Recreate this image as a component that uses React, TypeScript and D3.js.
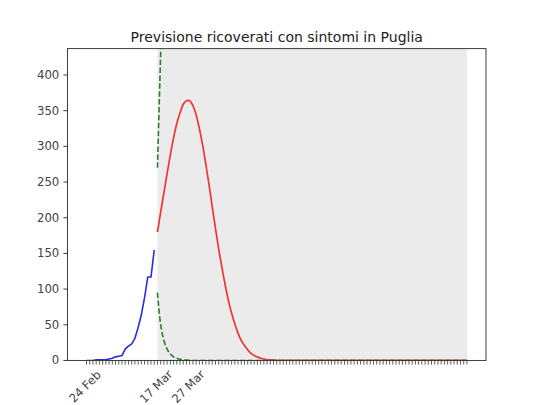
import React from "react";
import * as d3 from "d3";

const titleText = "Previsione ricoverati con sintomi in Puglia";
const dayCount = 119; // 24 Feb .. 22 Jun (daily ticks)
const tickLabelDays = [0, 22, 32];
const tickLabelTexts = ["24 Feb", "17 Mar", "27 Mar"];
const yTicks = [0, 50, 100, 150, 200, 250, 300, 350, 400];

// observed data, day 0 = 24 Feb
const observedValues = [0, 0, 0, 1, 1, 1, 1, 2, 3, 5, 6, 7, 16, 20, 23, 31, 46, 64, 88, 117, 117, 155];

// forecast starts at day 22 (17 Mar)
const forecastStartDay = 22;
const forecastEndDay = 118;
const forecastValues = [
  180, 208, 235, 262, 288, 312, 332, 347, 359, 364, 364, 357, 344, 325, 302, 275, 246, 215, 185, 156,
  130, 106, 84, 66, 51, 38, 28, 21, 15, 10, 7, 5, 3, 2, 1, 1, 0.5, 0.3,
  0, 0, 0, 0, 0, 0, 0, 0, 0, 0, 0, 0, 0, 0, 0, 0, 0, 0, 0, 0, 0, 0, 0, 0, 0, 0, 0, 0, 0, 0, 0, 0,
  0, 0, 0, 0, 0, 0, 0, 0, 0, 0, 0, 0, 0, 0, 0, 0, 0, 0, 0, 0, 0, 0, 0, 0, 0, 0, 0,
];
const upperBoundValues = [270, 432, 700, 1000];
const lowerBoundValues = [
  95, 50, 28, 16, 9, 5, 3, 1.5, 1, 0.5, 0.3,
  0, 0, 0, 0, 0, 0, 0, 0, 0, 0, 0, 0, 0, 0, 0, 0, 0, 0, 0, 0, 0, 0, 0, 0, 0, 0, 0, 0, 0, 0,
  0, 0, 0, 0, 0, 0, 0, 0, 0, 0, 0, 0, 0, 0, 0, 0, 0, 0, 0, 0, 0, 0, 0, 0, 0, 0, 0, 0, 0, 0,
  0, 0, 0, 0, 0, 0, 0, 0, 0, 0, 0, 0, 0, 0, 0, 0, 0, 0, 0, 0, 0, 0, 0, 0, 0, 0,
];

const W = 540;
const H = 405;
const left = 67.5;
const right = 486;
const top = 48.6;
const bottom = 360.45;
const font = "'DejaVu Sans', sans-serif";

export default function App() {
  const span = dayCount - 1;
  const x = d3.scaleLinear().domain([-0.05 * span, span * 1.05]).range([left, right]);
  const y = d3.scaleLinear().domain([0, 437]).range([bottom, top]);

  const line = d3
    .line<number>()
    .x((_, i) => x(i))
    .y((d) => y(d));
  const fline = (start: number) =>
    d3
      .line<number>()
      .x((_, i) => x(start + i))
      .y((d) => y(d))
      .curve(d3.curveCatmullRom.alpha(0.5));

  const days = d3.range(dayCount);
  const tickLen = 4.1;
  const labelTop = bottom + tickLen + 4.1;

  return (
    <svg width={W} height={H} style={{ position: "absolute", left: 0, top: 0 }}>
      <defs>
        <clipPath id="plot">
          <rect x={left} y={top} width={right - left} height={bottom - top} />
        </clipPath>
      </defs>
      <rect width={W} height={H} fill="#fff" />
      <g clipPath="url(#plot)">
        <rect
          x={x(forecastStartDay)}
          y={top}
          width={x(forecastEndDay) - x(forecastStartDay)}
          height={bottom - top}
          fill="#ebebeb"
        />
        <path d={line(observedValues) || ""} fill="none" stroke="#2a2ae6" strokeWidth={1.6} />
        <path d={fline(forecastStartDay)(forecastValues) || ""} fill="none" stroke="#f03434" strokeWidth={1.7} />
        <path
          d={d3.line<number>().x((_, i) => x(forecastStartDay + i)).y((d) => y(d))(upperBoundValues) || ""}
          fill="none"
          stroke="#2c7f2c"
          strokeWidth={1.6}
          strokeDasharray="5.5,2.4"
        />
        <path
          d={fline(forecastStartDay)(lowerBoundValues) || ""}
          fill="none"
          stroke="#2c7f2c"
          strokeWidth={1.6}
          strokeDasharray="5.5,2.4"
        />
      </g>
      <rect x={left} y={top} width={right - left} height={bottom - top} fill="none" stroke="#333" strokeWidth={0.95} />
      {yTicks.map((t) => (
        <g key={t}>
          <line x1={left - tickLen} x2={left} y1={y(t)} y2={y(t)} stroke="#333" strokeWidth={0.95} />
          <text
            x={left - tickLen - 4.1}
            y={y(t)}
            textAnchor="end"
            dominantBaseline="central"
            fontFamily={font}
            fontSize={11.7}
            fill="#444"
          >
            {t}
          </text>
        </g>
      ))}
      {days.map((d) => (
        <line key={d} x1={x(d)} x2={x(d)} y1={bottom} y2={bottom + tickLen} stroke="#333" strokeWidth={0.8} />
      ))}
      {tickLabelDays.map((d, i) => {
        const cx = x(d) - 1.5;
        const cy = labelTop + 18;
        return (
          <text
            key={d}
            x={cx}
            y={cy}
            textAnchor="middle"
            dominantBaseline="central"
            fontFamily={font}
            fontSize={11.7}
            fill="#444"
            transform={`rotate(-45 ${cx} ${cy})`}
          >
            {tickLabelTexts[i]}
          </text>
        );
      })}
      <text
        x={(left + right) / 2}
        y={top - 7}
        textAnchor="middle"
        fontFamily={font}
        fontSize={14}
        fill="#222"
      >
        {titleText}
      </text>
    </svg>
  );
}
